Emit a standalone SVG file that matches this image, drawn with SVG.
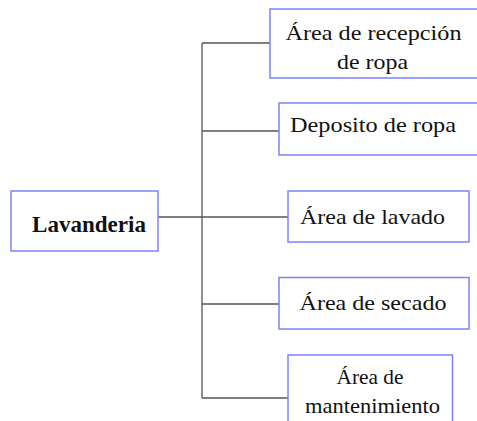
<svg xmlns="http://www.w3.org/2000/svg" width="477" height="421" viewBox="0 0 477 421">
<style>
.box{fill:#fff;stroke:#8080ff;stroke-width:1.5}
.t{font-family:"Liberation Serif","Times New Roman",serif;font-size:22px;fill:#111;text-anchor:middle}
.b{font-weight:bold;font-size:23px}
.c{stroke:#555;stroke-width:1.3;fill:none}
</style>
<rect width="477" height="421" fill="#fff"/>
<g id="connectors">
<line class="c" x1="202" y1="43" x2="202" y2="398"/>
<line class="c" x1="158" y1="217" x2="288" y2="217"/>
<line class="c" x1="202" y1="43" x2="270" y2="43"/>
<line class="c" x1="202" y1="131" x2="279" y2="131"/>
<line class="c" x1="202" y1="304" x2="279" y2="304"/>
<line class="c" x1="202" y1="398" x2="288" y2="398"/>
</g>
<g id="lavanderia">
<rect class="box" x="11" y="191" width="147" height="60"/>
<text class="t b" x="89" y="231.5" textLength="114" lengthAdjust="spacingAndGlyphs">Lavanderia</text>
</g>
<g id="recepcion">
<rect class="box" x="270" y="9" width="215" height="69"/>
<text class="t" x="373.5" y="40" textLength="176" lengthAdjust="spacingAndGlyphs">Área de recepción</text>
<text class="t" x="372.5" y="69" textLength="71" lengthAdjust="spacingAndGlyphs">de ropa</text>
</g>
<g id="deposito">
<rect class="box" x="279" y="103" width="206" height="52"/>
<text class="t" x="373" y="132" textLength="166" lengthAdjust="spacingAndGlyphs">Deposito de ropa</text>
</g>
<g id="lavado">
<rect class="box" x="288" y="191" width="181" height="51"/>
<text class="t" x="372.5" y="224" textLength="145" lengthAdjust="spacingAndGlyphs">Área de lavado</text>
</g>
<g id="secado">
<rect class="box" x="279" y="277.5" width="190" height="51.5"/>
<text class="t" x="373" y="310" textLength="147" lengthAdjust="spacingAndGlyphs">Área de secado</text>
</g>
<g id="mantenimiento">
<rect class="box" x="288" y="355" width="164.5" height="80"/>
<text class="t" x="370" y="384" textLength="67" lengthAdjust="spacingAndGlyphs">Área de</text>
<text class="t" x="372.5" y="413" textLength="135" lengthAdjust="spacingAndGlyphs">mantenimiento</text>
</g>
</svg>
